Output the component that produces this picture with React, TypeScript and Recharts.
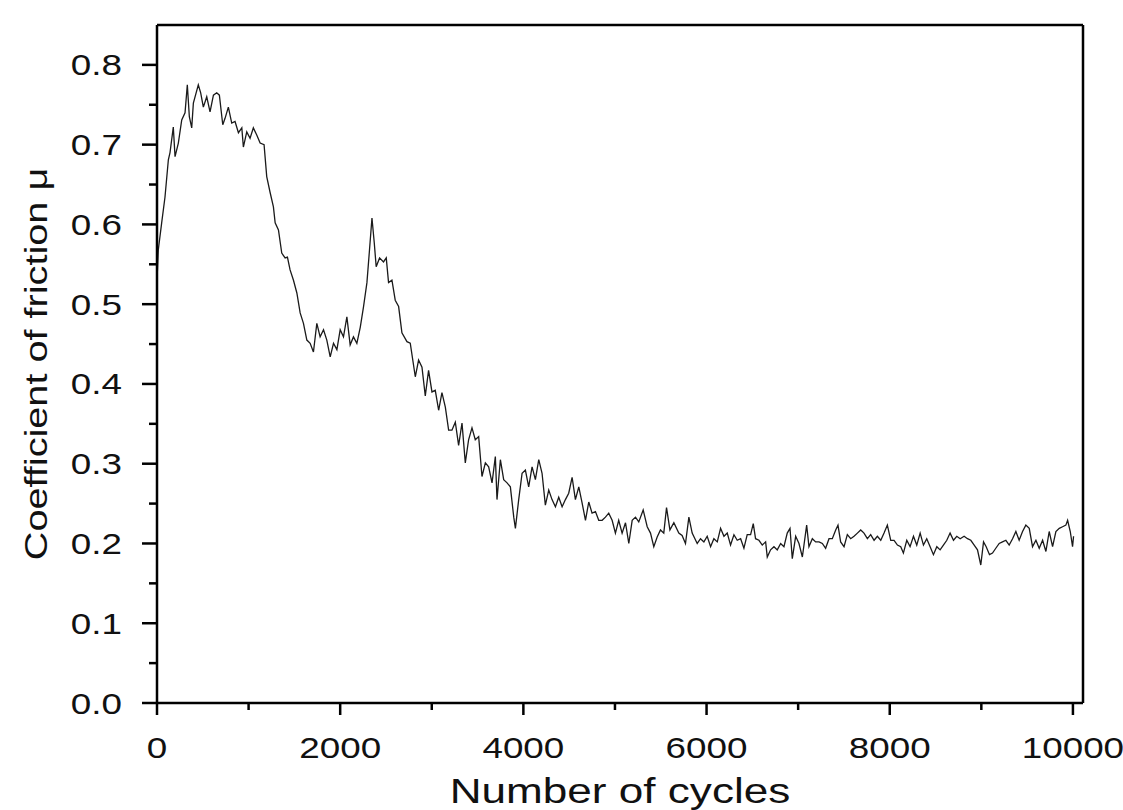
import { LineChart, Line, XAxis, YAxis, ReferenceLine } from 'recharts';

// values
const CYCLES = [
  0, 14, 51, 87, 124, 142, 178, 197, 233, 270, 306, 331, 353, 379, 397, 451, 477, 506, 543, 579,
  616, 652, 681, 718, 743, 779, 816, 852, 889, 926, 943, 980, 1016, 1052, 1089, 1126, 1169, 1198, 1235, 1271,
  1290, 1326, 1362, 1399, 1424, 1453, 1490, 1527, 1563, 1599, 1636, 1672, 1708, 1745, 1781, 1818, 1854, 1891, 1927, 1964,
  2000, 2036, 2073, 2109, 2145, 2182, 2219, 2255, 2292, 2320, 2347, 2372, 2393, 2430, 2473, 2503, 2528, 2565, 2601, 2638,
  2674, 2729, 2765, 2820, 2856, 2893, 2929, 2965, 3002, 3038, 3075, 3111, 3148, 3184, 3220, 3257, 3293, 3330, 3366, 3402,
  3439, 3475, 3512, 3548, 3585, 3621, 3658, 3694, 3712, 3749, 3785, 3822, 3858, 3895, 3913, 3949, 3986, 4022, 4058, 4095,
  4131, 4168, 4204, 4240, 4277, 4313, 4350, 4386, 4423, 4459, 4495, 4532, 4568, 4605, 4641, 4678, 4714, 4750, 4787, 4823,
  4860, 4896, 4932, 4969, 5005, 5041, 5078, 5115, 5151, 5188, 5224, 5260, 5308, 5352, 5388, 5424, 5461, 5497, 5533, 5563,
  5600, 5643, 5697, 5733, 5770, 5807, 5843, 5898, 5934, 5971, 6007, 6044, 6080, 6117, 6153, 6190, 6226, 6262, 6299, 6335,
  6372, 6408, 6444, 6481, 6510, 6535, 6572, 6608, 6645, 6663, 6699, 6736, 6772, 6809, 6845, 6881, 6911, 6936, 6973, 7009,
  7046, 7093, 7118, 7155, 7191, 7228, 7264, 7300, 7337, 7373, 7410, 7435, 7464, 7501, 7537, 7574, 7610, 7647, 7683, 7719,
  7756, 7792, 7829, 7865, 7902, 7938, 7974, 8011, 8047, 8084, 8120, 8149, 8186, 8222, 8259, 8295, 8332, 8368, 8404, 8441,
  8477, 8514, 8550, 8586, 8623, 8659, 8696, 8732, 8769, 8812, 8849, 8885, 8922, 8958, 8994, 9024, 9053, 9089, 9122, 9158,
  9195, 9231, 9268, 9304, 9341, 9377, 9413, 9450, 9486, 9523, 9559, 9596, 9632, 9669, 9705, 9741, 9778, 9814, 9851, 9887,
  9923, 9942, 9971, 9996, 10007,
];

const MU = [
  0.53, 0.568, 0.602, 0.634, 0.681, 0.69, 0.722, 0.685, 0.702, 0.731, 0.74, 0.775, 0.735, 0.721, 0.752, 0.775, 0.765, 0.747, 0.76, 0.741,
  0.762, 0.765, 0.762, 0.725, 0.733, 0.747, 0.727, 0.729, 0.715, 0.721, 0.697, 0.716, 0.708, 0.721, 0.712, 0.702, 0.7, 0.66, 0.64, 0.622,
  0.602, 0.593, 0.564, 0.558, 0.559, 0.543, 0.53, 0.514, 0.489, 0.476, 0.455, 0.451, 0.44, 0.476, 0.459, 0.468, 0.455, 0.434, 0.451, 0.443,
  0.468, 0.459, 0.484, 0.449, 0.459, 0.451, 0.471, 0.497, 0.527, 0.568, 0.608, 0.577, 0.547, 0.558, 0.553, 0.558, 0.527, 0.53, 0.505, 0.497,
  0.464, 0.453, 0.451, 0.409, 0.43, 0.421, 0.385, 0.417, 0.39, 0.392, 0.367, 0.389, 0.371, 0.342, 0.342, 0.352, 0.323, 0.351, 0.301, 0.33,
  0.345, 0.33, 0.334, 0.284, 0.301, 0.296, 0.276, 0.309, 0.255, 0.305, 0.28, 0.276, 0.271, 0.233, 0.219, 0.255, 0.288, 0.292, 0.271, 0.296,
  0.28, 0.305, 0.288, 0.248, 0.267, 0.255, 0.246, 0.258, 0.246, 0.255, 0.263, 0.283, 0.255, 0.271, 0.251, 0.229, 0.252, 0.238, 0.24, 0.229,
  0.229, 0.233, 0.238, 0.229, 0.213, 0.229, 0.213, 0.226, 0.2, 0.229, 0.233, 0.227, 0.242, 0.221, 0.213, 0.196, 0.208, 0.217, 0.213, 0.245,
  0.217, 0.226, 0.213, 0.21, 0.2, 0.233, 0.213, 0.2, 0.206, 0.202, 0.209, 0.196, 0.206, 0.202, 0.219, 0.209, 0.213, 0.198, 0.211, 0.204,
  0.206, 0.194, 0.211, 0.211, 0.225, 0.206, 0.204, 0.198, 0.202, 0.183, 0.192, 0.196, 0.192, 0.2, 0.196, 0.213, 0.219, 0.181, 0.209, 0.2,
  0.183, 0.223, 0.196, 0.206, 0.202, 0.202, 0.2, 0.194, 0.206, 0.206, 0.217, 0.223, 0.202, 0.196, 0.211, 0.206, 0.209, 0.213, 0.217, 0.213,
  0.206, 0.211, 0.204, 0.209, 0.204, 0.213, 0.223, 0.204, 0.204, 0.198, 0.196, 0.188, 0.204, 0.196, 0.209, 0.198, 0.213, 0.198, 0.206, 0.196,
  0.186, 0.196, 0.192, 0.198, 0.204, 0.213, 0.204, 0.209, 0.206, 0.209, 0.206, 0.204, 0.198, 0.192, 0.173, 0.202, 0.196, 0.186, 0.188, 0.194,
  0.2, 0.202, 0.204, 0.198, 0.206, 0.215, 0.204, 0.215, 0.223, 0.219, 0.196, 0.204, 0.194, 0.204, 0.19, 0.215, 0.196, 0.215, 0.219, 0.221,
  0.223, 0.229, 0.215, 0.196, 0.209,
];

const X_TICKS = [0, 1000, 2000, 3000, 4000, 5000, 6000, 7000, 8000, 9000, 10000];
const Y_TICKS = [0, 0.05, 0.1, 0.15, 0.2, 0.25, 0.3, 0.35, 0.4, 0.45, 0.5, 0.55, 0.6, 0.65, 0.7, 0.75, 0.8];
const X_MAX = 10110;
const Y_MAX = 0.85;

const data = CYCLES.map((c, i) => ({ cycles: c, mu: MU[i] }));

const FONT = 'Liberation Sans, Arial, sans-serif';
const STRETCH = 1.27;

const XTick = ({ x, y, payload }: any) => {
  const major = payload.value % 2000 === 0;
  return (
    <g>
      <line x1={x} y1={y} x2={x} y2={y + (major ? 12 : 7)} stroke="#000" strokeWidth={2.5} />
      {major && (
        <text
          transform={`translate(${x},${y + 55}) scale(${STRETCH},1)`}
          textAnchor="middle"
          fontSize={29}
          fontFamily={FONT}
          fill="#111"
        >
          {payload.value}
        </text>
      )}
    </g>
  );
};

const YTick = ({ x, y, payload }: any) => {
  const v = payload.value;
  const major = Math.abs(v * 10 - Math.round(v * 10)) < 1e-6;
  return (
    <g>
      <line x1={x} y1={y} x2={x - (major ? 15 : 8)} y2={y} stroke="#000" strokeWidth={2.5} />
      {major && (
        <text
          transform={`translate(${x - 35},${y + 10.5}) scale(${STRETCH},1)`}
          textAnchor="end"
          fontSize={29}
          fontFamily={FONT}
          fill="#111"
        >
          {v.toFixed(1)}
        </text>
      )}
    </g>
  );
};

const YTitle = ({ viewBox }: any) => (
  <text
    transform={`translate(${viewBox.x + 10},${viewBox.y + viewBox.height / 2}) rotate(-90) scale(1.28,1)`}
    textAnchor="middle"
    fontSize={31}
    fontFamily={FONT}
    fill="#111"
  >
    Coefficient of friction μ
  </text>
);

const XTitle = ({ viewBox }: any) => (
  <text
    transform={`translate(${viewBox.x + viewBox.width / 2},${viewBox.y + 100}) scale(1.26,1)`}
    textAnchor="middle"
    fontSize={35}
    fontFamily={FONT}
    fill="#111"
  >
    Number of cycles
  </text>
);

export default function App() {
  return (
    <div style={{ position: 'absolute', left: 0, top: 0, background: '#fff' }}>
      <LineChart width={1123} height={810} data={data} margin={{ top: 25, right: 40, bottom: 47, left: 37 }}>
        <XAxis
          dataKey="cycles"
          type="number"
          domain={[0, X_MAX]}
          ticks={X_TICKS}
          interval={0}
          height={60}
          tickSize={0}
          tickMargin={0}
          tickLine={false}
          axisLine={{ stroke: '#000', strokeWidth: 2.5 }}
          tick={<XTick />}
          label={{ content: <XTitle /> } as any}
        />
        <YAxis
          type="number"
          domain={[0, Y_MAX]}
          ticks={Y_TICKS}
          interval={0}
          width={120}
          tickSize={0}
          tickMargin={0}
          tickLine={false}
          axisLine={{ stroke: '#000', strokeWidth: 2.5 }}
          tick={<YTick />}
          label={{ content: <YTitle /> } as any}
        />
        <ReferenceLine y={Y_MAX} stroke="#000" strokeWidth={2.5} />
        <ReferenceLine x={X_MAX} stroke="#000" strokeWidth={2.5} />
        <Line
          dataKey="mu"
          type="linear"
          stroke="#1a1a1a"
          strokeWidth={1.3}
          dot={false}
          isAnimationActive={false}
        />
      </LineChart>
    </div>
  );
}
